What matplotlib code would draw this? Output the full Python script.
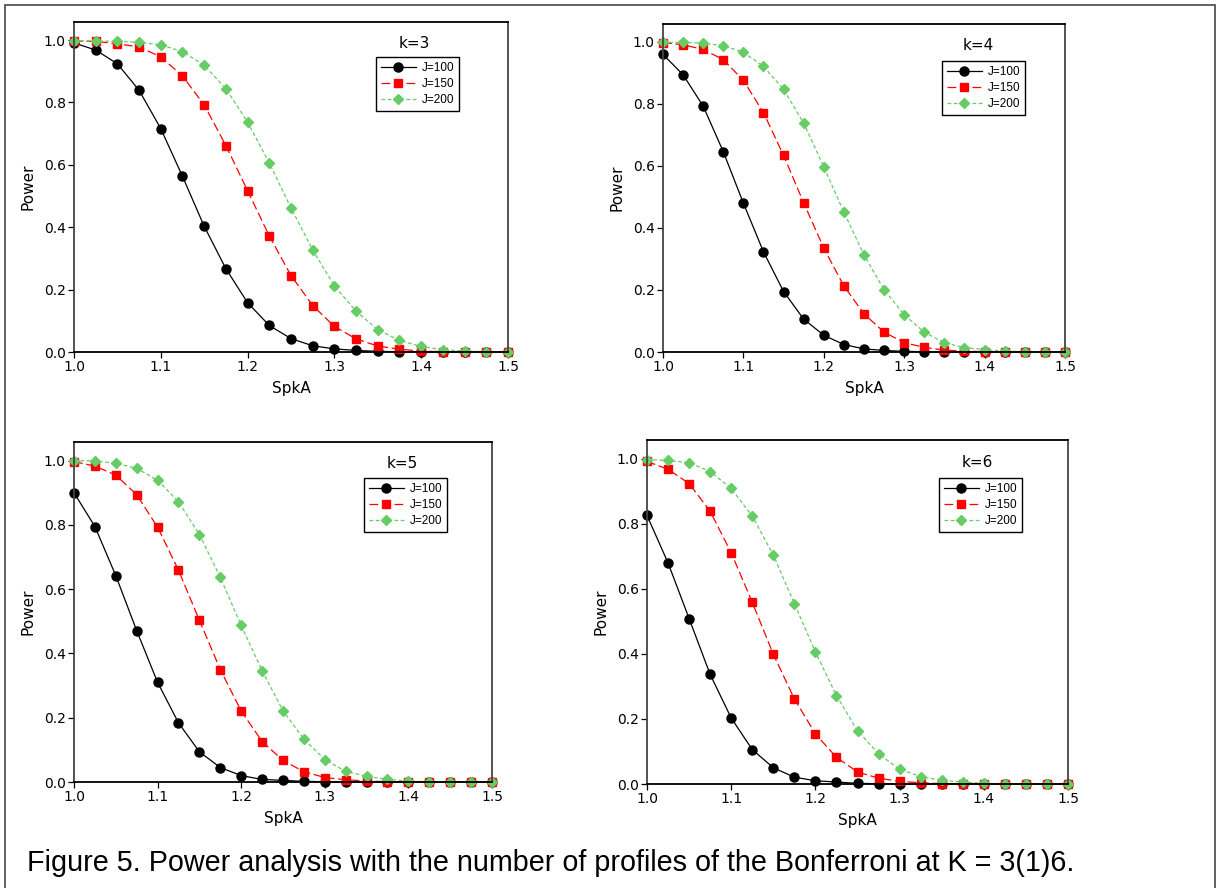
import numpy as np
import matplotlib.pyplot as plt
from matplotlib.patches import Rectangle

# Данные: SpkA от 1.0 до 1.5 с шагом 0.025
spka = [1.0, 1.025, 1.05, 1.075, 1.1, 1.125, 1.15, 1.175, 1.2, 1.225, 1.25,
        1.275, 1.3, 1.325, 1.35, 1.375, 1.4, 1.425, 1.45, 1.475, 1.5]

k3_j100 = [0.991, 0.968, 0.924, 0.839, 0.716, 0.563, 0.403, 0.267, 0.158, 0.085, 0.043,
           0.020, 0.010, 0.005, 0.002, 0.001, 0.0, 0.0, 0.0, 0.0, 0.0]
k3_j150 = [0.997, 0.996, 0.988, 0.978, 0.946, 0.885, 0.792, 0.662, 0.517, 0.372, 0.245,
           0.149, 0.082, 0.042, 0.019, 0.009, 0.003, 0.001, 0.0, 0.0, 0.0]
k3_j200 = [0.998, 0.997, 0.996, 0.993, 0.985, 0.963, 0.919, 0.844, 0.737, 0.606, 0.462,
           0.327, 0.212, 0.131, 0.071, 0.037, 0.018, 0.007, 0.003, 0.001, 0.0]

k4_j100 = [0.960, 0.894, 0.793, 0.646, 0.480, 0.323, 0.195, 0.106, 0.054, 0.024, 0.010,
           0.005, 0.002, 0.001, 0.0, 0.0, 0.0, 0.0, 0.0, 0.0, 0.0]
k4_j150 = [0.998, 0.991, 0.976, 0.943, 0.876, 0.772, 0.634, 0.481, 0.335, 0.213, 0.123,
           0.064, 0.030, 0.015, 0.006, 0.003, 0.001, 0.0, 0.0, 0.0, 0.0]
k4_j200 = [0.999, 0.999, 0.996, 0.988, 0.967, 0.921, 0.847, 0.738, 0.597, 0.451, 0.313,
           0.201, 0.120, 0.064, 0.030, 0.014, 0.008, 0.003, 0.001, 0.0, 0.0]

k5_j100 = [0.900, 0.795, 0.642, 0.471, 0.310, 0.184, 0.094, 0.045, 0.020, 0.008, 0.005,
           0.002, 0.001, 0.0, 0.0, 0.0, 0.0, 0.0, 0.0, 0.0, 0.0]
k5_j150 = [0.997, 0.983, 0.955, 0.894, 0.793, 0.659, 0.503, 0.350, 0.221, 0.126, 0.067,
           0.032, 0.014, 0.007, 0.003, 0.001, 0.0, 0.0, 0.0, 0.0, 0.0]
k5_j200 = [1.000, 0.999, 0.992, 0.976, 0.939, 0.872, 0.770, 0.637, 0.487, 0.346, 0.222,
           0.133, 0.070, 0.033, 0.018, 0.008, 0.003, 0.001, 0.0, 0.0, 0.0]

k6_j100 = [0.826, 0.680, 0.509, 0.337, 0.203, 0.106, 0.050, 0.021, 0.010, 0.006, 0.002,
           0.001, 0.0, 0.0, 0.0, 0.0, 0.0, 0.0, 0.0, 0.0, 0.0]
k6_j150 = [0.992, 0.968, 0.924, 0.839, 0.711, 0.559, 0.399, 0.262, 0.154, 0.082, 0.037,
           0.018, 0.008, 0.004, 0.001, 0.0, 0.0, 0.0, 0.0, 0.0, 0.0]
k6_j200 = [0.998, 0.995, 0.988, 0.961, 0.909, 0.824, 0.704, 0.555, 0.406, 0.272, 0.164,
           0.093, 0.045, 0.023, 0.011, 0.006, 0.002, 0.001, 0.0, 0.0, 0.0]

panel_titles = ['k=3', 'k=4', 'k=5', 'k=6']
series_labels = ['J=100', 'J=150', 'J=200']
panels = [(k3_j100, k3_j150, k3_j200), (k4_j100, k4_j150, k4_j200),
          (k5_j100, k5_j150, k5_j200), (k6_j100, k6_j150, k6_j200)]
caption = 'Figure 5. Power analysis with the number of profiles of the Bonferroni at K = 3(1)6.'

W, H = 1217, 888
fig = plt.figure(figsize=(W / 100, H / 100), dpi=100)

# рамки осей в пикселях: left, top, right, bottom
boxes = [(74, 22, 508, 352), (663, 24, 1065, 352), (74, 442, 492, 782), (647, 440, 1068, 784)]
# легенда (левый верхний угол) и заголовок k=.. в пикселях
legend_pos = [(376, 57), (942, 61), (364, 478), (939, 478)]
title_pos = [(414, 43), (978, 46), (402, 463), (977, 462)]

styles = [dict(color='black', marker='o', ms=6.5, ls='-', lw=0.9),
          dict(color='#ff0000', marker='s', ms=6, ls=(0, (7, 3)), lw=0.9),
          dict(color='#66cc66', marker='D', ms=5.5, ls=(0, (3, 2)), lw=0.9)]

for (l, t, r, b), data, title, lp, tp in zip(boxes, panels, panel_titles, legend_pos, title_pos):
    ax = fig.add_axes([l / W, 1 - b / H, (r - l) / W, (b - t) / H])
    for ys, lab, st in zip(data, series_labels, styles):
        ax.plot(spka, ys, label=lab, clip_on=False, zorder=3, **st)
    ax.set_xlim(1.0, 1.5)
    ax.set_ylim(0, 1.058)
    ax.set_xticks(np.arange(1.0, 1.51, 0.1))
    ax.set_yticks(np.arange(0, 1.01, 0.2))
    ax.xaxis.set_major_formatter(plt.FormatStrFormatter('%.1f'))
    ax.yaxis.set_major_formatter(plt.FormatStrFormatter('%.1f'))
    ax.tick_params(direction='out', length=4, width=0.9, labelsize=10, pad=2)
    for s in ax.spines.values():
        s.set_linewidth(1.3)
        s.set_color('black')
        s.set_zorder(5)
    ax.spines['left'].set_color('#444444')
    ax.spines['right'].set_color('#444444')
    ax.set_xlabel('SpkA', fontsize=11, labelpad=5)
    ax.set_ylabel('Power', fontsize=11, labelpad=6)
    ax.text((tp[0] - l) / (r - l), (b - tp[1]) / (b - t), title, transform=ax.transAxes,
            ha='center', va='center', fontsize=11)
    leg = ax.legend(loc='upper left',
                    bbox_to_anchor=((lp[0] - l) / (r - l), (b - lp[1]) / (b - t)),
                    borderaxespad=0, fancybox=False, framealpha=1, edgecolor='black',
                    handlelength=3.0, handletextpad=0.5, borderpad=0.4,
                    labelspacing=0.35, prop=dict(family='Liberation Sans', size=8.5))
    leg.get_frame().set_linewidth(1.0)

# общая рамка рисунка
fig.add_artist(Rectangle((5 / W, -0.01), (1215 - 5) / W, 1 - 5 / H + 0.01,
                         transform=fig.transFigure, fill=False, edgecolor='#555555', lw=1.3))

fig.text(27 / W, 1 - 871 / H, caption, fontsize=20.7, family='Liberation Sans',
         ha='left', va='baseline')

fig.savefig('out.png', dpi=100)
